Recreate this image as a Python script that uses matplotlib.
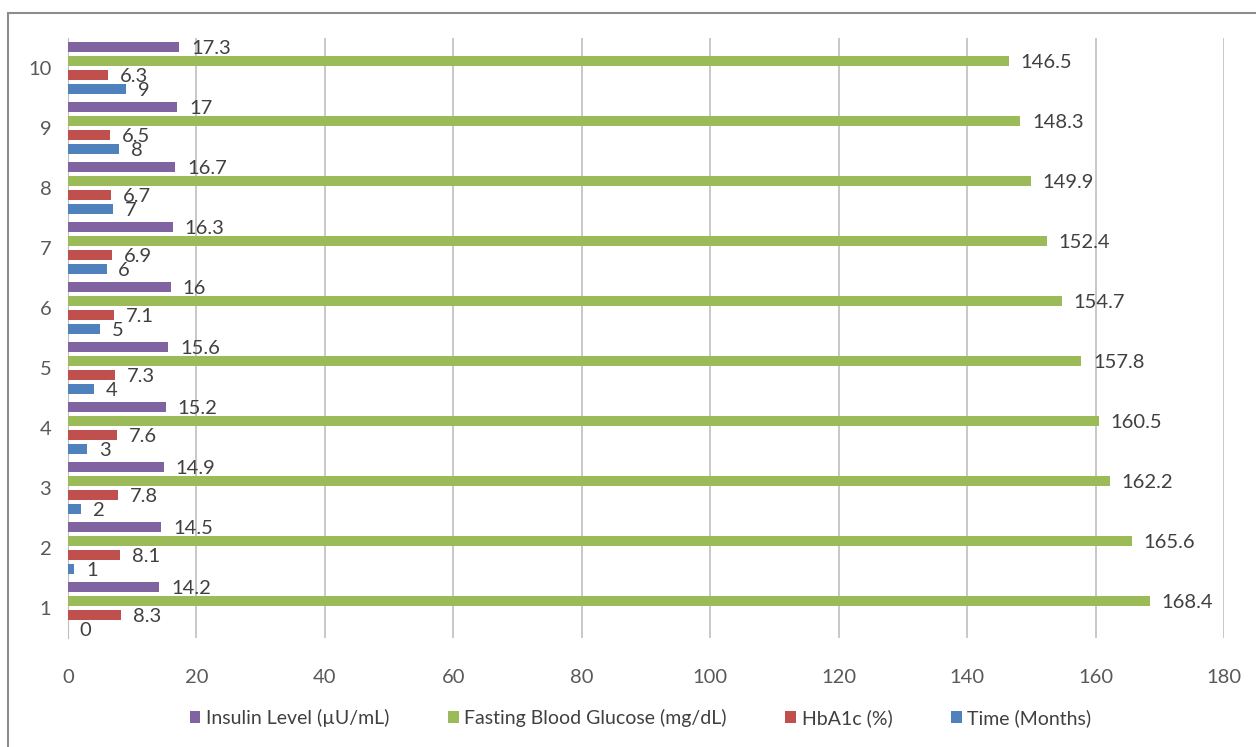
import numpy as np
import matplotlib.pyplot as plt
from matplotlib.patches import Rectangle

plt.rcParams['font.family'] = ['Lato', 'DejaVu Sans']

# data------------------------------------------------------------------------#
months = [1, 2, 3, 4, 5, 6, 7, 8, 9, 10]
time_m = [0, 1, 2, 3, 4, 5, 6, 7, 8, 9]
hba1c = [8.3, 8.1, 7.8, 7.6, 7.3, 7.1, 6.9, 6.7, 6.5, 6.3]
fbg = [168.4, 165.6, 162.2, 160.5, 157.8, 154.7, 152.4, 149.9, 148.3, 146.5]
insulin = [14.2, 14.5, 14.9, 15.2, 15.6, 16, 16.3, 16.7, 17, 17.3]

series = [
    ('Time (Months)', time_m, '#4F81BD'),
    ('HbA1c (%)', hba1c, '#C0504D'),
    ('Fasting Blood Glucose (mg/dL)', fbg, '#9BBB59'),
    ('Insulin Level (\u00b5U/mL)', insulin, '#8064A2'),
]

# figure----------------------------------------------------------------------#
fig = plt.figure(figsize=(12.56, 7.47), dpi=100)
ax = fig.add_axes([68/1256, 1-638/747, (1224-68)/1256, 600/747])

y = np.arange(1, len(months)+1)
offsets = [-0.35, -0.117, 0.117, 0.35]
h = 0.165
bars = []
for (name, vals, col), off in zip(series, offsets):
    b = ax.barh(y+off, vals, height=h, color=col, label=name, zorder=3)
    bars.append(b)
    for yy, v in zip(y+off, vals):
        ax.annotate(f'{v:g}', (v, yy), xytext=(8.5, -1), textcoords='offset points',
                    ha='left', va='center', fontsize=14.5, color='#404040', zorder=4)

ax.set_xlim(0, 180)
ax.set_ylim(0.5, 10.5)
ax.set_xticks(range(0, 181, 20))
ax.set_yticks(y)
ax.set_yticklabels([str(m) for m in months])
ax.grid(axis='x', color='#BFBFBF', linewidth=1.2, zorder=0)
ax.tick_params(length=0, labelsize=14.5, labelcolor='#595959')
ax.tick_params(axis='x', pad=22)
ax.tick_params(axis='y', pad=12)
for s in ['top', 'right', 'bottom']:
    ax.spines[s].set_visible(False)
ax.spines['left'].set_color('#BFBFBF')

handles = bars[::-1]
labels = [s[0] for s in series][::-1]
fig.legend(handles, labels, loc='center', bbox_to_anchor=(0.51, 1-718/747), ncol=4,
           frameon=False, fontsize=14, handlelength=0.55, handleheight=0.55,
           handletextpad=0.3, columnspacing=3.0, labelcolor='#404040')

fig.patches.append(Rectangle((8/1256, -0.1), 1.2, 1.1-13/747, transform=fig.transFigure,
                             fill=False, edgecolor='#8C8C8C', linewidth=1.5))

fig.savefig('out.png', dpi=100)
